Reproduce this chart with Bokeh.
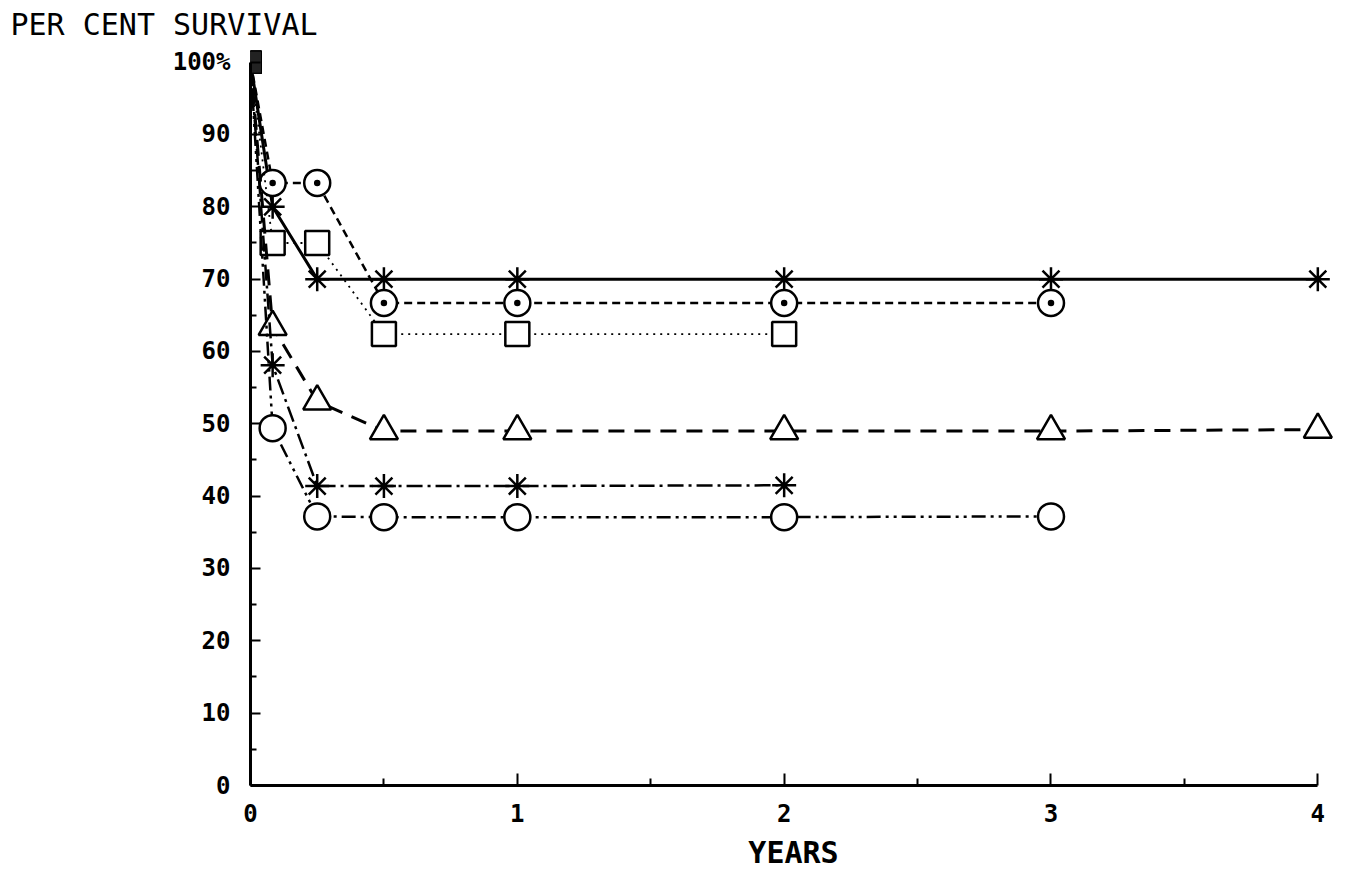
from bokeh.plotting import figure
from bokeh.models import Range1d, FixedTicker
from bokeh.embed import file_html
from bokeh.resources import INLINE

# time points (years): start, 1 month, 3 months, 6 months, 1..4 years
years = [0, 0.083, 0.25, 0.5, 1, 2, 3, 4]

solid_star = [100, 80, 70, 70, 70, 70, 70, 70]
dashed_circle = [100, 83.3, 83.3, 66.7, 66.7, 66.7, 66.7]
dotted_square = [100, 75, 75, 62.4, 62.4, 62.4]
longdash_triangle = [100, 63.4, 53.1, 49, 49, 49, 49, 49.2]
dashdot_star = [100, 58.1, 41.4, 41.4, 41.4, 41.5]
dashdotdot_circle = [100, 49.4, 37.2, 37.1, 37.1, 37.1, 37.2]

y_ticks = [0, 10, 20, 30, 40, 50, 60, 70, 80, 90, 100]
y_minor = [5, 15, 25, 35, 45, 55, 65, 75, 85, 95]
x_ticks = [0, 1, 2, 3, 4]
x_minor = [0.5, 1.5, 2.5, 3.5]

FONT = "DejaVu Sans Mono"

p = figure(width=1338, height=872, output_backend="svg", toolbar_location=None,
           x_range=Range1d(0, 4.07), y_range=Range1d(0, 102.3),
           min_border_left=250, min_border_right=2, min_border_top=45, min_border_bottom=80)
p.xgrid.visible = False
p.ygrid.visible = False
p.outline_line_color = None
p.background_fill_color = "white"

p.title.text = "PER CENT SURVIVAL"
p.title.align = "left"
p.title.offset = -240
p.title.text_font = FONT
p.title.text_font_style = "normal"
p.title.text_font_size = "30px"
p.title.text_color = "black"
p.title.standoff = 8

for ax in (p.xaxis[0], p.yaxis[0]):
    ax.axis_line_width = 3
    ax.axis_line_color = "black"
    ax.major_tick_line_width = 2
    ax.minor_tick_line_width = 2
    ax.major_tick_out = 0
    ax.minor_tick_out = 0
    ax.major_label_text_font = FONT
    ax.major_label_text_font_style = "bold"
    ax.major_label_text_font_size = "24px"
    ax.major_label_text_color = "black"

p.xaxis.ticker = FixedTicker(ticks=x_ticks, minor_ticks=x_minor)
p.xaxis.bounds = (0, 4)
p.xaxis.major_tick_in = 12
p.xaxis.minor_tick_in = 7
p.xaxis.major_label_standoff = 18
p.xaxis.axis_label = "YEARS"
p.xaxis.axis_label_text_font = FONT
p.xaxis.axis_label_text_font_style = "bold"
p.xaxis.axis_label_text_font_size = "30px"
p.xaxis.axis_label_text_color = "black"
p.xaxis.axis_label_standoff = 10

p.yaxis.ticker = FixedTicker(ticks=y_ticks, minor_ticks=y_minor)
p.yaxis.bounds = (0, 100)
p.yaxis.major_tick_in = 10
p.yaxis.minor_tick_in = 6
p.yaxis.major_label_standoff = 20
p.yaxis.major_label_overrides = {100: "100%"}

series = [
    (solid_star, "solid", 3, "asterisk", 24),
    (dashed_circle, "8 5", 2.5, "circle_dot", 26),
    (dotted_square, "2 5", 1.8, "square", 24),
    (longdash_triangle, "16 10", 3, "triangle", 28),
    (dashdot_star, "16 5 3 5", 2.5, "asterisk", 24),
    (dashdotdot_circle, "14 5 3 5 3 5", 2.5, "circle", 26),
]

for vals, dash, lw, marker, size in series:
    xs = years[:len(vals)]
    p.line(xs, vals, line_color="black", line_width=lw, line_dash=dash)
    p.scatter(xs[1:], vals[1:], marker=marker, size=size, line_color="black",
              line_width=2.5, fill_color="white")
    p.scatter(xs[:1], vals[:1], marker="square", size=22, line_color="black",
              fill_color="#222222")

open("out.html", "w").write(file_html(p, INLINE))
